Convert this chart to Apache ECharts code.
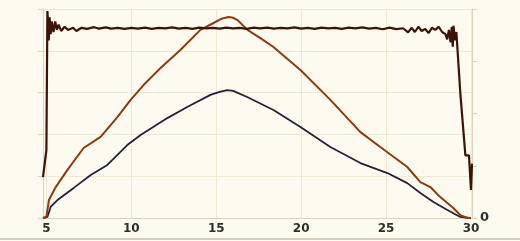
<!DOCTYPE html>
<html><head><meta charset="utf-8">
<script src="https://cdn.jsdelivr.net/npm/echarts@6/dist/echarts.min.js"></script>
<style>
html,body{margin:0;padding:0;background:#fdfbef;}
#wrap{position:relative;width:520px;height:241px;}
#c{width:520px;height:241px;}
#edge{position:absolute;left:0;top:238px;width:520px;height:2px;background:#d3cebf;}
</style></head><body>
<div id="wrap"><div id="c"></div><div id="edge"></div></div>
<script>
// x-axis tick labels shown
const xTickLabels = [5, 10, 15, 20, 25, 30];
// dark brown plateau series [x, value]
const plateauSeries = [
[4.8,19.6],[5.0,32.5],[5.06,99],[5.1,93],[5.14,85],[5.19,96],[5.25,88],[5.32,94],[5.42,89],[5.52,94],
[5.62,90],[5.72,92.5],[5.87,89.5],[6.07,91.5],[6.27,90],[6.57,91],[6.77,89.5],[7.07,91],[7.4,90.5],[7.8,91.3],
[8.1,90.6],[8.5,91.2],[8.8,90.6],[9.2,91],[9.6,90.5],[10.0,91],[10.4,90.6],[10.8,91.1],[11.2,90.5],[11.6,91],
[12.0,90.7],[12.4,91.2],[12.8,90.6],[13.2,91],[13.6,90.5],[14.0,91.1],[14.4,90.7],[14.8,91],[15.2,90.6],[15.6,91.1],
[16.0,90.7],[16.4,91],[16.8,90.5],[17.2,91.1],[17.6,90.7],[18.0,91.1],[18.4,90.6],[18.8,91],[19.2,90.7],[19.6,91.2],
[20.0,90.6],[20.4,91],[20.8,90.5],[21.2,91.1],[21.6,90.7],[22.0,91],[22.4,90.5],[22.8,91.1],[23.2,90.7],[23.6,91.2],
[24.0,90.6],[24.4,91],[24.8,90.3],[25.2,91.1],[25.6,90.4],[26.0,90.8],[26.3,88.8],[26.5,91],[26.7,89],[26.9,91.5],
[27.1,89.5],[27.3,90.5],[27.5,88.5],[27.7,91],[27.9,90],[28.1,91.5],[28.3,89],[28.5,88],[28.6,85.5],[28.7,90],
[28.8,84],[28.87,91.5],[28.93,82],[28.97,92],[29.05,85],[29.14,89],[29.37,60],[29.67,30],[29.88,30],[30.0,13.4],[30.06,26]
];
// orange triangular series
const orangeSeries = [
[4.8,0],[5.0,0.5],[5.15,8.6],[5.55,14.8],[6.24,23.0],[7.19,33.5],[8.19,38.8],[9.18,48.3],[9.96,56.5],[10.72,63.6],
[11.72,71.8],[12.89,80.4],[14.07,90.0],[14.84,93.3],[15.3,95.3],[15.72,96.2],[16.0,95.8],[16.25,94.7],[16.84,90.0],[17.6,86.1],
[18.37,81.8],[18.78,78.9],[19.96,70.8],[21.72,56.5],[23.49,41.1],[24.66,34.0],[26.25,24.4],[27.02,17.2],[27.61,14.8],[28.19,10.0],
[28.96,4.8],[29.37,1.4],[29.78,0],[30.0,0]
];
// navy triangular series
const navySeries = [
[4.8,0],[5.06,0.5],[5.25,5.3],[5.65,8.6],[6.61,14.4],[7.61,20.6],[8.59,25.4],[9.76,34.9],[10.55,39.7],[12.12,47.8],
[13.29,53.1],[14.66,58.9],[15.2,60.3],[15.65,61.2],[16.0,60.8],[16.82,57.9],[18.37,51.7],[19.96,43.5],[21.72,34.0],[23.49,26.3],
[25.08,21.5],[26.25,16.7],[27.02,12.0],[27.79,7.7],[28.61,3.8],[29.37,0.5],[29.96,0],[30.0,0]
];

const chart = echarts.init(document.getElementById('c'), null, {renderer:'canvas'});
const gridCol = '#efe9d3';
const axisCol = '#dcd4b8';
chart.setOption({
  backgroundColor: '#fdfbef',
  animation: false,
  grid: {left: 43, right: 48, top: 9, bottom: 23},
  xAxis: {
    type: 'value', min: 4.8, max: 30.06,
    axisLine: {show: true, lineStyle: {color: axisCol}},
    axisTick: {show: false},
    splitLine: {show: true, lineStyle: {color: gridCol}},
    axisLabel: {
      color: '#2e2e2e', fontFamily: 'DejaVu Sans', fontWeight: 'bold', fontSize: 12, margin: 5,
      formatter: v => xTickLabels.indexOf(Math.round(v*100)/100) >= 0 ? String(v) : ''
    }
  },
  yAxis: [{
    type: 'value', min: 0, max: 100, interval: 20, position: 'left',
    axisLine: {show: true, lineStyle: {color: axisCol}},
    axisTick: {show: true, length: 5, lineStyle: {color: axisCol}},
    splitLine: {show: true, lineStyle: {color: gridCol}},
    axisLabel: {show: false}
  }, {
    type: 'value', min: 0, max: 4, interval: 1, position: 'right',
    axisLine: {show: true, lineStyle: {color: axisCol}},
    axisTick: {show: true, length: 5, lineStyle: {color: axisCol}},
    splitLine: {show: false},
    axisLabel: {
      color: '#2e2e2e', fontFamily: 'DejaVu Sans', fontWeight: 'bold', fontSize: 13, margin: 8,
      formatter: v => v === 0 ? '0' : ''
    }
  }],
  series: [
    {type: 'line', data: navySeries, showSymbol: false, lineStyle: {color: '#2a1d3c', width: 1.8}, z: 2},
    {type: 'line', data: orangeSeries, showSymbol: false, lineStyle: {color: '#8a3b10', width: 2}, z: 3},
    {type: 'line', data: plateauSeries, showSymbol: false, lineStyle: {color: '#3a1406', width: 2.2}, z: 4}
  ]
});
</script>
</body></html>
